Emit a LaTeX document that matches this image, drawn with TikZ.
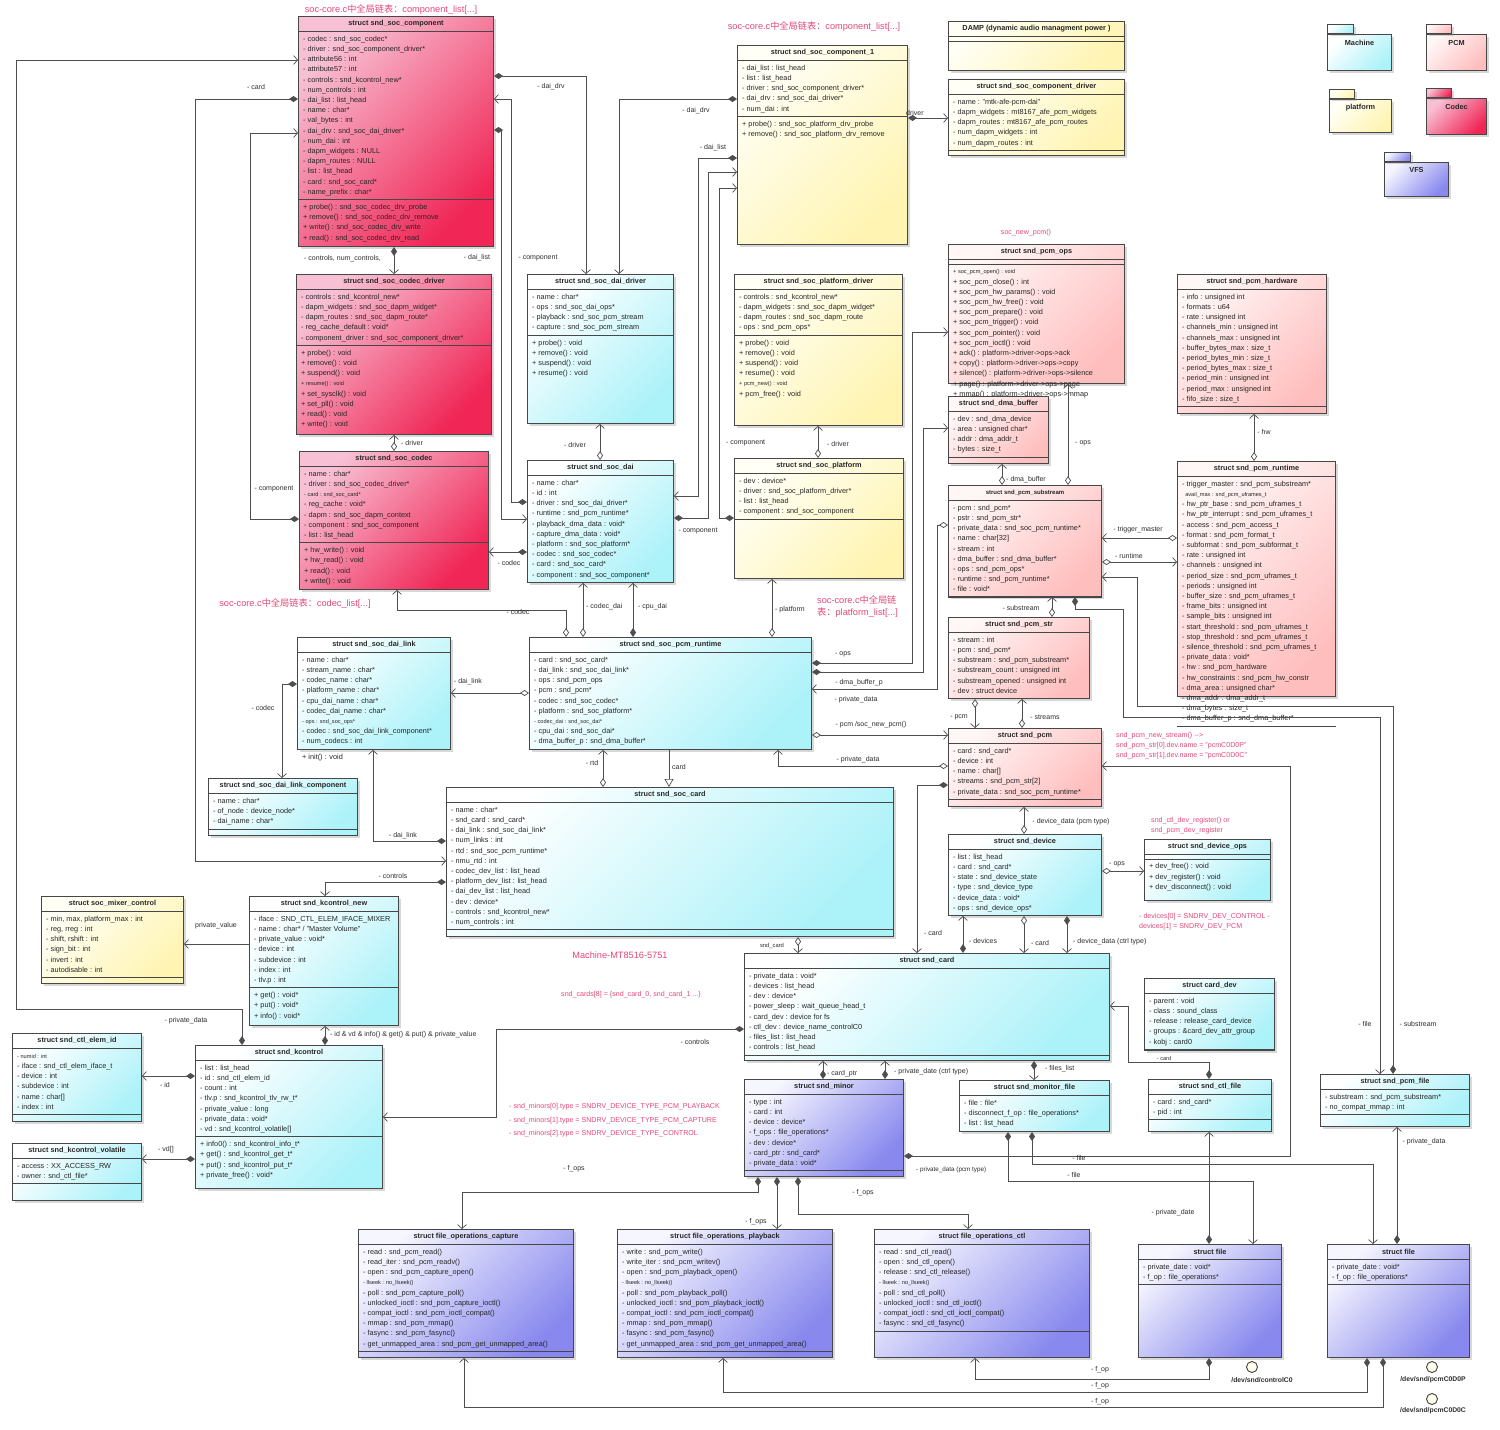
\documentclass[tikz,border=0pt]{standalone}
\usepackage{fontspec}
\setmainfont{Liberation Sans}
\newfontfamily\cjk{Noto Sans CJK SC}
\usetikzlibrary{calc,arrows.meta,shadows}
\definecolor{codecA}{RGB}{248,192,212}
\definecolor{codecB}{RGB}{240,38,86}
\definecolor{machA}{RGB}{255,255,255}
\definecolor{machB}{RGB}{172,242,249}
\definecolor{platA}{RGB}{255,255,246}
\definecolor{platB}{RGB}{255,244,178}
\definecolor{pcmA}{RGB}{255,246,246}
\definecolor{pcmB}{RGB}{255,190,190}
\definecolor{vfsA}{RGB}{246,246,255}
\definecolor{vfsB}{RGB}{136,136,238}
\definecolor{pinklbl}{RGB}{228,72,120}
\definecolor{linegray}{RGB}{78,78,78}
\newcommand{\smalltxt}[1]{{\fontsize{5.6}{6}\selectfont #1}}
\tikzset{
  classbox/.style={draw=black!72, line width=1pt, inner sep=0,
    drop shadow={shadow xshift=2pt, shadow yshift=-2pt, opacity=0.3}},
  fcodec/.style={top color=codecA, bottom color=codecB, shading angle=45},
  fmach/.style={top color=machA, bottom color=machB, shading angle=45},
  fplat/.style={top color=platA, bottom color=platB, shading angle=45},
  fpcm/.style={top color=pcmA, bottom color=pcmB, shading angle=45},
  fvfs/.style={top color=vfsA, bottom color=vfsB, shading angle=45},
  sepline/.style={draw=black!72, line width=0.8pt},
  titletext/.style={font={\fontsize{7.3}{9}\selectfont\bfseries}, text=black!85, inner sep=0},
  membertext/.style={font={\fontsize{7.3}{10.2}\selectfont}, text=black!85, inner sep=0},
  lbl/.style={font={\fontsize{7}{8}\selectfont}, text=black!82, inner sep=0},
  pinkbig/.style={font={\fontsize{9.2}{11}\selectfont}, text=pinklbl, inner sep=0},
  pinksm/.style={font={\fontsize{7.1}{8}\selectfont}, text=pinklbl, inner sep=0},
  conn/.style={draw=linegray, line width=0.7pt},
  assoc/.style={conn, -{Straight Barb[length=4pt,width=9pt]}},
  compo/.style={conn, {Diamond[length=9pt,width=6pt,fill=linegray]}-{Straight Barb[length=4pt,width=9pt]}},
  aggr/.style={conn, {Diamond[open,length=9pt,width=6pt,fill=white]}-{Straight Barb[length=4pt,width=9pt]}},
  gen/.style={conn, -{Triangle[open,length=8pt,width=9pt,fill=white]}},
  pkg/.style={draw=black!72, line width=1pt, inner sep=0,
    drop shadow={shadow xshift=2pt, shadow yshift=-2pt, opacity=0.3}},
  iface/.style={circle, draw=black!75, line width=0.9pt, fill=yellow!8, minimum size=11pt, inner sep=0},
}
% #1 name, #2 x, #3 y (top), #4 width, #5 height, #6 fill, #7 title, #8 attributes, #9 methods
\newcommand{\umlclass}[9]{%
  \node[classbox,#6,minimum width=#4pt,minimum height=#5pt,anchor=north west] (#1) at (#2,#3) {};
  \node[titletext] (#1t) at ($(#1.north)+(0,7.5)$) {#7};
  \draw[sepline] ($(#1.north west)+(0,15)$) -- ($(#1.north east)+(0,15)$);
  \if\relax\detokenize{#8}\relax
    \coordinate (#1s) at ($(#1.north west)+(0,20)$);
  \else
    \node[membertext,anchor=north west] (#1a) at ($(#1.north west)+(5,18)$) {\begin{tabular}{@{}l@{}}#8\end{tabular}};
    \coordinate (#1s) at ($(#1.west |- #1a.south)+(0,2)$);
  \fi
  \draw[sepline] (#1.west |- #1s) -- (#1.east |- #1s);
  \if\relax\detokenize{#9}\relax\else
    \node[membertext,anchor=north west] (#1m) at ($(#1.west |- #1s)+(5,2.5)$) {\begin{tabular}{@{}l@{}}#9\end{tabular}};
  \fi
}
\begin{document}
\catcode`\_=12\relax
\begin{tikzpicture}[x=1pt,y=-1pt]
\fill[white] (0,0) rectangle (1500,1430);
\useasboundingbox (0,0) rectangle (1500,1430);

% ---------------- Codec ----------------
\umlclass{comp}{298}{16}{195}{230}{fcodec}{struct snd_soc_component}{- codec : snd_soc_codec*\\ - driver : snd_soc_component_driver*\\ - attribute56 : int\\ - attribute57 : int\\ - controls : snd_kcontrol_new*\\ - num_controls : int\\ - dai_list : list_head\\ - name : char*\\ - val_bytes : int\\ - dai_drv : snd_soc_dai_driver*\\ - num_dai : int\\ - dapm_widgets : NULL\\ - dapm_routes : NULL\\ - list : list_head\\ - card : snd_soc_card*\\ - name_prefix : char*}{+ probe() : snd_soc_codec_drv_probe\\ + remove() : snd_soc_codec_drv_remove\\ + write() : snd_soc_codec_drv_write\\ + read() : snd_soc_codec_drv_read}

\umlclass{cdrv}{296}{274}{195}{160}{fcodec}{struct snd_soc_codec_driver}{- controls : snd_kcontrol_new*\\ - dapm_widgets : snd_soc_dapm_widget*\\ - dapm_routes : snd_soc_dapm_route*\\ - reg_cache_default : void*\\ - component_driver : snd_soc_component_driver*}{+ probe() : void\\ + remove() : void\\ + suspend() : void\\ \smalltxt{+ resume() : void}\\ + set_sysclk() : void\\ + set_pll() : void\\ + read() : void\\ + write() : void}

\umlclass{codec}{299}{451}{189}{138}{fcodec}{struct snd_soc_codec}{- name : char*\\ - driver : snd_soc_codec_driver*\\ \smalltxt{- card : snd_soc_card*}\\ - reg_cache : void*\\ - dapm : snd_soc_dapm_context\\ - component : snd_soc_component\\ - list : list_head}{+ hw_write() : void\\ + hw_read() : void\\ + read() : void\\ + write() : void}

% ---------------- Machine (soc) ----------------
\umlclass{daidrv}{527}{274}{146}{149}{fmach}{struct snd_soc_dai_driver}{- name : char*\\ - ops : snd_soc_dai_ops*\\ - playback : snd_soc_pcm_stream\\ - capture : snd_soc_pcm_stream}{+ probe() : void\\ + remove() : void\\ + suspend() : void\\ + resume() : void}

\umlclass{dai}{527}{460}{146}{122}{fmach}{struct snd_soc_dai}{- name : char*\\ - id : int\\ - driver : snd_soc_dai_driver*\\ - runtime : snd_pcm_runtime*\\ - playback_dma_data : void*\\ - capture_dma_data : void*\\ - platform : snd_soc_platform*\\ - codec : snd_soc_codec*\\ - card : snd_soc_card*\\ - component : snd_soc_component*}{}

% ---------------- platform ----------------
\umlclass{comp1}{737}{45}{170}{199}{fplat}{struct snd_soc_component_1}{- dai_list : list_head\\ - list : list_head\\ - driver : snd_soc_component_driver*\\ - dai_drv : snd_soc_dai_driver*\\ - num_dai : int}{+ probe() : snd_soc_platform_drv_probe\\ + remove() : snd_soc_platform_drv_remove}

\umlclass{damp}{948}{21}{176}{49}{fplat}{DAMP (dynamic audio managment power )}{}{}

\umlclass{compdrv}{948}{79}{176}{76}{fplat}{struct snd_soc_component_driver}{- name : "mtk-afe-pcm-dai"\\ - dapm_widgets : mt8167_afe_pcm_widgets\\ - dapm_routes : mt8167_afe_pcm_routes\\ - num_dapm_widgets : int\\ - num_dapm_routes : int}{}

\umlclass{platdrv}{734}{274}{168}{151}{fplat}{struct snd_soc_platform_driver}{- controls : snd_kcontrol_new*\\ - dapm_widgets : snd_soc_dapm_widget*\\ - dapm_routes : snd_soc_dapm_route\\ - ops : snd_pcm_ops*}{+ probe() : void\\ + remove() : void\\ + suspend() : void\\ + resume() : void\\ \smalltxt{+ pcm_new() : void}\\ + pcm_free() : void}

\umlclass{plat}{734}{458}{169}{120}{fplat}{struct snd_soc_platform}{- dev : device*\\ - driver : snd_soc_platform_driver*\\ - list : list_head\\ - component : snd_soc_component}{}

% ---------------- PCM ----------------
\umlclass{pcmops}{948}{244}{176}{139}{fpcm}{struct snd_pcm_ops}{}{\smalltxt{+ soc_pcm_open() : void}\\ + soc_pcm_close() : int\\ + soc_pcm_hw_params() : void\\ + soc_pcm_hw_free() : void\\ + soc_pcm_prepare() : void\\ + soc_pcm_trigger() : void\\ + soc_pcm_pointer() : void\\ + soc_pcm_ioctl() : void\\ + ack() : platform->driver->ops->ack\\ + copy() : platform->driver->ops->copy\\ + silence() : platform->driver->ops->silence\\ + page() : platform->driver->ops->page\\ + mmap() : platform->driver->ops->mmap}

\umlclass{dmabuf}{948}{396}{100}{67}{fpcm}{struct snd_dma_buffer}{- dev : snd_dma_device\\ - area : unsigned char*\\ - addr : dma_addr_t\\ - bytes : size_t}{}

\umlclass{subst}{948}{485}{153}{111}{fpcm}{\fontsize{6}{7}\selectfont struct snd_pcm_substream}{- pcm : snd_pcm*\\ - pstr : snd_pcm_str*\\ - private_data : snd_soc_pcm_runtime*\\ - name : char[32]\\ - stream : int\\ - dma_buffer : snd_dma_buffer*\\ - ops : snd_pcm_ops*\\ - runtime : snd_pcm_runtime*\\ - file : void*}{}

\umlclass{pcmstr}{948}{617}{141}{81}{fpcm}{struct snd_pcm_str}{- stream : int\\ - pcm : snd_pcm*\\ - substream : snd_pcm_substream*\\ - substream_count : unsigned int\\ - substream_opened : unsigned int\\ - dev : struct device}{}

\umlclass{pcm}{948}{728}{153}{78}{fpcm}{struct snd_pcm}{- card : snd_card*\\ - device : int\\ - name : char[]\\ - streams : snd_pcm_str[2]\\ - private_data : snd_soc_pcm_runtime*}{}

\umlclass{pcmhw}{1177}{274}{149}{139}{fpcm}{struct snd_pcm_hardware}{- info : unsigned int\\ - formats : u64\\ - rate : unsigned int\\ - channels_min : unsigned int\\ - channels_max : unsigned int\\ - buffer_bytes_max : size_t\\ - period_bytes_min : size_t\\ - period_bytes_max : size_t\\ - period_min : unsigned int\\ - period_max : unsigned int\\ - fifo_size : size_t}{}

\umlclass{pcmrt}{1177}{461}{158}{235}{fpcm}{struct snd_pcm_runtime}{- trigger_master : snd_pcm_substream*\\ \smalltxt{\ \ avail_max : snd_pcm_uframes_t}\\ - hw_ptr_base : snd_pcm_uframes_t\\ - hw_ptr_interrupt : snd_pcm_uframes_t\\ - access : snd_pcm_access_t\\ - format : snd_pcm_format_t\\ - subformat : snd_pcm_subformat_t\\ - rate : unsigned int\\ - channels : unsigned int\\ - period_size : snd_pcm_uframes_t\\ - periods : unsigned int\\ - buffer_size : snd_pcm_uframes_t\\ - frame_bits : unsigned int\\ - sample_bits : unsigned int\\ - start_threshold : snd_pcm_uframes_t\\ - stop_threshold : snd_pcm_uframes_t\\ - silence_threshold : snd_pcm_uframes_t\\ - private_data : void*\\ - hw : snd_pcm_hardware\\ - hw_constraints : snd_pcm_hw_constr\\ - dma_area : unsigned char*\\ - dma_addr : dma_addr_t\\ - dma_bytes : size_t\\ - dma_buffer_p : snd_dma_buffer*}{}

% ---------------- Machine ----------------
\umlclass{dailink}{297}{637}{153}{112}{fmach}{struct snd_soc_dai_link}{- name : char*\\ - stream_name : char*\\ - codec_name : char*\\ - platform_name : char*\\ - cpu_dai_name : char*\\ - codec_dai_name : char*\\ \smalltxt{- ops : snd_soc_ops*}\\ - codec : snd_soc_dai_link_component*\\ - num_codecs : int}{+ init() : void}

\umlclass{dlcomp}{208}{778}{149}{57}{fmach}{struct snd_soc_dai_link_component}{- name : char*\\ - of_node : device_node*\\ - dai_name : char*}{}

\umlclass{rtd}{529}{637}{282}{112}{fmach}{struct snd_soc_pcm_runtime}{- card : snd_soc_card*\\ - dai_link : snd_soc_dai_link*\\ - ops : snd_pcm_ops\\ - pcm : snd_pcm*\\ - codec : snd_soc_codec*\\ - platform : snd_soc_platform*\\ \smalltxt{- codec_dai : snd_soc_dai*}\\ - cpu_dai : snd_soc_dai*\\ - dma_buffer_p : snd_dma_buffer*}{}

\umlclass{soccard}{446}{787}{447}{149}{fmach}{struct snd_soc_card}{- name : char*\\ - snd_card : snd_card*\\ - dai_link : snd_soc_dai_link*\\ - num_links : int\\ - rtd : snd_soc_pcm_runtime*\\ - nmu_rtd : int\\ - codec_dev_list : list_head\\ - platform_dev_list : list_head\\ - dai_dev_list : list_head\\ - dev : device*\\ - controls : snd_kcontrol_new*\\ - num_controls : int}{}

\umlclass{mixer}{41}{896}{142}{87}{fplat}{struct soc_mixer_control}{- min, max, platform_max : int\\ - reg, rreg : int\\ - shift, rshift : int\\ - sign_bit : int\\ - invert : int\\ - autodisable : int}{}

\umlclass{kcnew}{249}{896}{149}{129}{fmach}{struct snd_kcontrol_new}{- iface : SND_CTL_ELEM_IFACE_MIXER\\ - name : char* / "Master Volume"\\ - private_value : void*\\ - device : int\\ - subdevice : int\\ - index : int\\ - tlv.p : int}{+ get() : void*\\ + put() : void*\\ + info() : void*}

\umlclass{elemid}{12}{1033}{129}{88}{fmach}{struct snd_ctl_elem_id}{\smalltxt{- numid : int}\\ - iface : snd_ctl_elem_iface_t\\ - device : int\\ - subdevice : int\\ - name : char[]\\ - index : int}{}

\umlclass{kvol}{12}{1143}{129}{57}{fmach}{struct snd_kcontrol_volatile}{- access : XX_ACCESS_RW\\ - owner : snd_ctl_file*}{}

\umlclass{kctl}{195}{1045}{187}{143}{fmach}{struct snd_kcontrol}{- list : list_head\\ - id : snd_ctl_elem_id\\ - count : int\\ - tlv.p : snd_kcontrol_tlv_rw_t*\\ - private_value : long\\ - private_data : void*\\ - vd : snd_kcontrol_volatile[]}{+ info0() : snd_kcontrol_info_t*\\ + get() : snd_kcontrol_get_t*\\ + put() : snd_kcontrol_put_t*\\ + private_free() : void*}

\umlclass{sdev}{948}{834}{153}{81}{fmach}{struct snd_device}{- list : list_head\\ - card : snd_card*\\ - state : snd_device_state\\ - type : snd_device_type\\ - device_data : void*\\ - ops : snd_device_ops*}{}

\umlclass{sdevops}{1144}{839}{126}{61}{fmach}{struct snd_device_ops}{}{+ dev_free() : void\\ + dev_register() : void\\ + dev_disconnect() : void}

\umlclass{card}{744}{953}{365}{107}{fmach}{struct snd_card}{- private_data : void*\\ - devices : list_head\\ - dev : device*\\ - power_sleep : wait_queue_head_t\\ - card_dev : device for fs\\ - ctl_dev : device_name_controlC0\\ - files_list : list_head\\ - controls : list_head}{}

\umlclass{carddev}{1144}{978}{130}{72}{fmach}{struct card_dev}{- parent : void\\ - class : sound_class\\ - release : release_card_device\\ - groups : \&card_dev_attr_group\\ - kobj : card0}{}

\umlclass{monfile}{959}{1080}{150}{51}{fmach}{struct snd_monitor_file}{- file : file*\\ - disconnect_f_op : file_operations*\\ - list : list_head}{}

\umlclass{ctlfile}{1148}{1079}{123}{52}{fmach}{struct snd_ctl_file}{- card : snd_card*\\ - pid : int}{}

\umlclass{pcmfile}{1320}{1074}{149}{52}{fmach}{struct snd_pcm_file}{- substream : snd_pcm_substream*\\ - no_compat_mmap : int}{}

% ---------------- VFS ----------------
\umlclass{minor}{744}{1079}{159}{97}{fvfs}{struct snd_minor}{- type : int\\ - card : int\\ - device : device*\\ - f_ops : file_operations*\\ - dev : device*\\ - card_ptr : snd_card*\\ - private_data : void*}{}

\umlclass{fcap}{358}{1229}{215}{128}{fvfs}{struct file_operations_capture}{- read : snd_pcm_read()\\ - read_iter : snd_pcm_readv()\\ - open : snd_pcm_capture_open()\\ \smalltxt{- llseek : no_llseek()}\\ - poll : snd_pcm_capture_poll()\\ - unlocked_ioctl : snd_pcm_capture_ioctl()\\ - compat_ioctl : snd_pcm_ioctl_compat()\\ - mmap : snd_pcm_mmap()\\ - fasync : snd_pcm_fasync()\\ - get_unmapped_area : snd_pcm_get_unmapped_area()}{}

\umlclass{fplay}{617}{1229}{215}{128}{fvfs}{struct file_operations_playback}{- write : snd_pcm_write()\\ - write_iter : snd_pcm_writev()\\ - open : snd_pcm_playback_open()\\ \smalltxt{- llseek : no_llseek()}\\ - poll : snd_pcm_playback_poll()\\ - unlocked_ioctl : snd_pcm_playback_ioctl()\\ - compat_ioctl : snd_pcm_ioctl_compat()\\ - mmap : snd_pcm_mmap()\\ - fasync : snd_pcm_fasync()\\ - get_unmapped_area : snd_pcm_get_unmapped_area()}{}

\umlclass{fctl}{874}{1229}{215}{128}{fvfs}{struct file_operations_ctl}{- read : snd_ctl_read()\\ - open : snd_ctl_open()\\ - release : snd_ctl_release()\\ \smalltxt{- llseek : no_llseek()}\\ - poll : snd_ctl_poll()\\ - unlocked_ioctl : snd_ctl_ioctl()\\ - compat_ioctl : snd_ctl_ioctl_compat()\\ - fasync : snd_ctl_fasync()}{}

\umlclass{fileA}{1138}{1244}{143}{113}{fvfs}{struct file}{- private_date : void*\\ - f_op : file_operations*}{}

\umlclass{fileB}{1327}{1244}{142}{113}{fvfs}{struct file}{- private_date : void*\\ - f_op : file_operations*}{}

% ---------------- packages ----------------
\node[pkg,fmach,minimum width=64pt,minimum height=36pt,anchor=north west] (pkmach) at (1327,34) {};
\node[pkg,fmach,minimum width=26pt,minimum height=9pt,anchor=south west] (pkmacht) at (pkmach.north west) {};
\node[titletext] (pkmachl) at ($(pkmach.north)+(0,9)$) {Machine};
\node[pkg,fpcm,minimum width=60pt,minimum height=36pt,anchor=north west] (pkpcm) at (1426,34) {};
\node[pkg,fpcm,minimum width=25pt,minimum height=9pt,anchor=south west] (pkpcmt) at (pkpcm.north west) {};
\node[titletext] (pkpcml) at ($(pkpcm.north)+(0,9)$) {PCM};
\node[pkg,fplat,minimum width=62pt,minimum height=33pt,anchor=north west] (pkplat) at (1329,99) {};
\node[pkg,fplat,minimum width=25pt,minimum height=9pt,anchor=south west] (pkplatt) at (pkplat.north west) {};
\node[titletext] (pkplatl) at ($(pkplat.north)+(0,9)$) {platform};
\node[pkg,fcodec,minimum width=60pt,minimum height=36pt,anchor=north west] (pkcodec) at (1426,98) {};
\node[pkg,fcodec,minimum width=25pt,minimum height=9pt,anchor=south west] (pkcodect) at (pkcodec.north west) {};
\node[titletext] (pkcodecl) at ($(pkcodec.north)+(0,9)$) {Codec};
\node[pkg,fvfs,minimum width=64pt,minimum height=34pt,anchor=north west] (pkvfs) at (1384,162) {};
\node[pkg,fvfs,minimum width=26pt,minimum height=9pt,anchor=south west] (pkvfst) at (pkvfs.north west) {};
\node[titletext] (pkvfsl) at ($(pkvfs.north)+(0,8)$) {VFS};

% ---------------- interfaces ----------------
\node[iface] (ifctl) at (1252,1367) {};
\node[lbl,font={\fontsize{6.8}{8}\selectfont\bfseries}] (ifctll) at (1262,1380) {/dev/snd/controlC0};
\node[iface] (ifpcmp) at (1432,1367) {};
\node[lbl,font={\fontsize{6.8}{8}\selectfont\bfseries}] (ifpcmpl) at (1433,1380) {/dev/snd/pcmC0D0P};
\node[iface] (ifpcmc) at (1432,1399) {};
\node[lbl,font={\fontsize{6.8}{8}\selectfont\bfseries}] (ifpcmcl) at (1433,1411) {/dev/snd/pcmC0D0C};

% ---------------- connectors ----------------
\draw[compo] (kctl.north -| 242,0) -- (242,1009) -- (16,1009) -- (16,60) -- (comp.west |- 0,60);
\draw[compo] (comp.west |- 0,99) -- (195,99) -- (195,861) -- (soccard.west |- 0,861);
\draw[compo] (codec.west |- 0,519) -- (250,519) -- (250,133) -- (comp.west |- 0,133);
\draw[compo] (comp.south -| 394,0) -- (cdrv.north -| 394,0);
\draw[compo] (comp.east |- 0,76) -- (586,76) -- (daidrv.north -| 586,0);
\draw[compo] (dai.west |- 0,502) -- (511,502) -- (511,99) -- (comp.east |- 0,99);
\draw[compo] (comp.east |- 0,130) -- (501,130) -- (501,519) -- (dai.west |- 0,519);
\draw[compo] (dai.west |- 0,552) -- (codec.east |- 0,552);
\draw[aggr] (dai.north -| 600,0) -- (daidrv.south -| 600,0);
\draw[aggr] (codec.north -| 394,0) -- (cdrv.south -| 394,0);
\draw[compo] (comp1.west |- 0,99) -- (619,99) -- (daidrv.north -| 619,0);
\draw[compo] (comp1.west |- 0,158) -- (698,158) -- (698,496) -- (dai.east |- 0,496);
\draw[compo] (dai.east |- 0,518) -- (708,518) -- (708,172) -- (comp1.west |- 0,172);
\draw[compo] (plat.west |- 0,518) -- (719,518) -- (719,188) -- (comp1.west |- 0,188);
\draw[compo] (comp1.east |- 0,118) -- (compdrv.west |- 0,118);
\draw[aggr] (plat.north -| 818,0) -- (platdrv.south -| 818,0);
\draw[compo] (rtd.east |- 0,663) -- (912,663) -- (912,332) -- (pcmops.west |- 0,332);
\draw[compo] (rtd.east |- 0,672) -- (923,672) -- (923,428) -- (dmabuf.west |- 0,428);
\draw[aggr] (subst.west |- 0,525) -- (937,525) -- (937,689) -- (rtd.east |- 0,689);
\draw[aggr] (rtd.east |- 0,735) -- (pcm.west |- 0,735);
\draw[aggr] (pcm.west |- 0,766) -- (778,766) -- (rtd.south -| 778,0);
\draw[compo] (pcm.west |- 0,785) -- (917,785) -- (card.north -| 917,0);
\draw[aggr] (pcmstr.south -| 975,0) -- (pcm.north -| 975,0);
\draw[aggr] (pcm.north -| 1022,0) -- (pcmstr.south -| 1022,0);
\draw[aggr] (pcmstr.north -| 1052,0) -- (subst.south -| 1052,0);
\draw[compo] (subst.south -| 1075,0) -- (1075,609) -- (1123,609) -- (1123,717) -- (1380,717) -- (pcmfile.north -| 1380,0);
\draw[compo] (pcmfile.north -| 1393,0) -- (1393,706) -- (1137,706) -- (1137,577) -- (subst.east |- 0,577);
\draw[aggr] (pcmrt.west |- 0,538) -- (subst.east |- 0,538);
\draw[aggr] (subst.east |- 0,562) -- (pcmrt.west |- 0,562);
\draw[aggr] (subst.north -| 1002,0) -- (dmabuf.south -| 1002,0);
\draw[aggr] (subst.north -| 1068,0) -- (pcmops.south -| 1068,0);
\draw[aggr] (pcmrt.north -| 1254,0) -- (pcmhw.south -| 1254,0);
\draw[compo] (minor.east |- 0,1156) -- (1290,1156) -- (1290,766) -- (pcm.east |- 0,766);
\draw[compo] (monfile.south -| 1032,0) -- (1032,1164) -- (1373,1164) -- (fileB.north -| 1373,0);
\draw[compo] (monfile.south -| 1008,0) -- (1008,1181) -- (1253,1181) -- (fileA.north -| 1253,0);
\draw[compo] (fileA.north -| 1209,0) -- (ctlfile.south -| 1209,0);
\draw[compo] (fileB.north -| 1397,0) -- (pcmfile.south -| 1397,0);
\draw[compo] (ctlfile.north -| 1209,0) -- (1209,1062) -- (1128,1062) -- (1128,1006) -- (card.east |- 0,1006);
\draw[compo] (fileA.south -| 1209,0) -- (1209,1379) -- (975,1379) -- (fctl.south -| 975,0);
\draw[compo] (fileB.south -| 1367,0) -- (1367,1392) -- (723,1392) -- (fplay.south -| 723,0);
\draw[compo] (fileB.south -| 1383,0) -- (1383,1407) -- (464,1407) -- (fcap.south -| 464,0);
\draw[compo] (minor.south -| 798,0) -- (798,1214) -- (968,1214) -- (fctl.north -| 968,0);
\draw[compo] (minor.south -| 777,0) -- (fplay.north -| 777,0);
\draw[compo] (minor.south -| 758,0) -- (758,1192) -- (462,1192) -- (fcap.north -| 462,0);
\draw[compo] (minor.north -| 823,0) -- (card.south -| 823,0);
\draw[compo] (minor.north -| 885,0) -- (card.south -| 885,0);
\draw[compo] (card.south -| 1034,0) -- (monfile.north -| 1034,0);
\draw[compo] (card.north -| 963,0) -- (sdev.south -| 963,0);
\draw[aggr] (sdev.south -| 1024,0) -- (card.north -| 1024,0);
\draw[compo] (sdev.south -| 1067,0) -- (card.north -| 1067,0);
\draw[aggr] (sdev.north -| 1024,0) -- (pcm.south -| 1024,0);
\draw[aggr] (sdev.east |- 0,871) -- (sdevops.west |- 0,871);
\draw[compo] (card.west |- 0,1029) -- (496,1029) -- (496,1117) -- (kctl.east |- 0,1117);
\draw[aggr] (soccard.south -| 798,0) -- (card.north -| 798,0);
\draw[aggr] (soccard.north -| 603,0) -- (rtd.south -| 603,0);
\draw[gen] (rtd.south -| 669,0) -- (soccard.north -| 669,0);
\draw[aggr] (rtd.north -| 566,0) -- (566,610) -- (397,610) -- (codec.south -| 397,0);
\draw[aggr] (rtd.north -| 583,0) -- (dai.south -| 583,0);
\draw[compo] (rtd.north -| 633,0) -- (dai.south -| 633,0);
\draw[aggr] (rtd.west |- 0,693) -- (dailink.east |- 0,693);
\draw[aggr] (rtd.north -| 772,0) -- (plat.south -| 772,0);
\draw[compo] (soccard.west |- 0,841) -- (373,841) -- (dailink.south -| 373,0);
\draw[compo] (soccard.west |- 0,882) -- (325,882) -- (kcnew.north -| 325,0);
\draw[assoc] (kcnew.west |- 0,944) -- (mixer.east |- 0,944);
\draw[compo] (dailink.west |- 0,684) -- (282,684) -- (dlcomp.north -| 282,0);
\draw[compo] (kctl.north -| 325,0) -- (kcnew.south -| 325,0);
\draw[compo] (kctl.west |- 0,1076) -- (elemid.east |- 0,1076);
\draw[compo] (kctl.west |- 0,1159) -- (kvol.east |- 0,1159);

% ---------------- connector labels ----------------
\node[lbl] (L1) at (186,1021) {- private_data};
\node[lbl] (L2) at (256,87) {- card};
\node[lbl] (L3) at (274,489) {- component};
\node[lbl,anchor=west] (L4) at (304,259) {- controls, num_controls,};
\node[lbl] (L5) at (551,87) {- dai_drv};
\node[lbl] (L6) at (538,258) {- component};
\node[lbl] (L7) at (477,258) {- dai_list};
\node[lbl] (L8) at (509,563) {- codec};
\node[lbl] (L9) at (575,445) {- driver};
\node[lbl] (L10) at (412,443) {- driver};
\node[lbl] (L11) at (696,111) {- dai_drv};
\node[lbl] (L12) at (713,148) {- dai_list};
\node[lbl] (L13) at (698,531) {- component};
\node[lbl,anchor=west] (L14) at (726,443) {- component};
\node[lbl,anchor=west] (L15) at (906,113) {driver};
\node[lbl] (L16) at (838,444) {- driver};
\node[lbl] (L17) at (843,654) {- ops};
\node[lbl] (L18) at (859,683) {- dma_buffer_p};
\node[lbl] (L19) at (856,700) {- private_data};
\node[lbl] (L20) at (871,725) {- pcm /soc_new_pcm()};
\node[lbl] (L21) at (858,760) {- private_data};
\node[lbl] (L22) at (933,933) {- card};
\node[lbl] (L23) at (959,717) {- pcm};
\node[lbl] (L24) at (1045,717) {- streams};
\node[lbl] (L25) at (1021,608) {- substream};
\node[lbl] (L26) at (1365,1024) {- file};
\node[lbl] (L27) at (1418,1024) {- substream};
\node[lbl] (L28) at (1138,530) {- trigger_master};
\node[lbl] (L29) at (1129,556) {- runtime};
\node[lbl] (L30) at (1026,480) {- dma_buffer};
\node[lbl] (L31) at (1083,443) {- ops};
\node[lbl] (L32) at (1264,432) {- hw};
\node[lbl,anchor=west,font={\fontsize{6.3}{7}\selectfont}] (L33) at (916,1170) {- private_data (pcm type)};
\node[lbl] (L34) at (1079,1158) {- file};
\node[lbl] (L35) at (1074,1175) {- file};
\node[lbl] (L36) at (1173,1213) {- private_date};
\node[lbl] (L37) at (1424,1142) {- private_data};
\node[lbl,font={\fontsize{5.6}{6}\selectfont}] (L38) at (1164,1058) {- card};
\node[lbl] (L39) at (1100,1370) {- f_op};
\node[lbl] (L40) at (1100,1386) {- f_op};
\node[lbl] (L41) at (1100,1402) {- f_op};
\node[lbl] (L42) at (863,1193) {- f_ops};
\node[lbl] (L43) at (756,1222) {- f_ops};
\node[lbl] (L44) at (574,1169) {- f_ops};
\node[lbl,anchor=west] (L45) at (827,1074) {- card_ptr};
\node[lbl,anchor=west] (L46) at (894,1072) {- private_date (ctrl type)};
\node[lbl,anchor=west] (L47) at (1045,1069) {- files_list};
\node[lbl] (L48) at (983,941) {- devices};
\node[lbl] (L49) at (1040,943) {- card};
\node[lbl,anchor=west] (L50) at (1073,942) {- device_data (ctrl type)};
\node[lbl] (L51) at (1071,822) {- device_data (pcm type)};
\node[lbl] (L52) at (1117,864) {- ops};
\node[lbl] (L53) at (695,1042) {- controls};
\node[lbl,font={\fontsize{5.8}{6}\selectfont}] (L54) at (772,946) {snd_card};
\node[lbl] (L55) at (592,763) {- rtd};
\node[lbl] (L56) at (679,767) {card};
\node[lbl] (L57) at (518,612) {- codec};
\node[lbl,anchor=west] (L58) at (586,607) {- codec_dai};
\node[lbl,anchor=west] (L59) at (638,607) {- cpu_dai};
\node[lbl] (L60) at (468,682) {- dai_link};
\node[lbl] (L61) at (790,610) {- platform};
\node[lbl] (L62) at (403,836) {- dai_link};
\node[lbl] (L63) at (393,876) {- controls};
\node[lbl] (L64) at (216,926) {private_value};
\node[lbl] (L65) at (263,708) {- codec};
\node[lbl,anchor=west] (L66) at (330,1035) {- id \& vd \& info() \& get() \& put() \& private_value};
\node[lbl] (L67) at (165,1085) {- id};
\node[lbl] (L68) at (166,1150) {- vd[]};

% ---------------- pink notes ----------------
\node[pinkbig] (N1) at (391,10) {soc-core.c{\cjk 中全局链表：}component_list[...]};
\node[pinkbig] (N2) at (814,27) {soc-core.c{\cjk 中全局链表：}component_list[...]};
\node[pinkbig] (N3) at (295,604) {soc-core.c{\cjk 中全局链表：}codec_list[...]};
\node[pinkbig,anchor=west] (N4) at (817,600) {soc-core.c{\cjk 中全局链}};
\node[pinkbig,anchor=west] (N5) at (817,613) {{\cjk 表：}platform_list[...]};
\node[pinksm] (N6) at (1026,233) {soc_new_pcm()};
\node[pinksm,anchor=west] (N7) at (1116,736) {snd_pcm_new_stream() -{}->};
\node[pinksm,anchor=west] (N8) at (1116,746) {snd_pcm_str[0].dev.name = "pcmC0D0P"};
\node[pinksm,anchor=west] (N9) at (1116,756) {snd_pcm_str[1].dev.name = "pcmC0D0C"};
\node[pinksm,anchor=west] (N10) at (1151,821) {snd_ctl_dev_register() or};
\node[pinksm,anchor=west] (N11) at (1151,831) {snd_pcm_dev_register};
\node[pinksm,anchor=west] (N12) at (1139,917) {- devices[0] = SNDRV_DEV_CONTROL -};
\node[pinksm,anchor=west] (N13) at (1139,927) {devices[1] = SNDRV_DEV_PCM};
\node[pinkbig] (N14) at (620,955) {Machine-MT8516-5751};
\node[pinksm] (N15) at (631,995) {snd_cards[8] = \{snd_card_0, snd_card_1 ...\}};
\node[pinksm,anchor=west] (N16) at (509,1107) {- snd_minors[0].type = SNDRV_DEVICE_TYPE_PCM_PLAYBACK};
\node[pinksm,anchor=west] (N17) at (509,1121) {- snd_minors[1].type = SNDRV_DEVICE_TYPE_PCM_CAPTURE};
\node[pinksm,anchor=west] (N18) at (509,1134) {- snd_minors[2].type = SNDRV_DEVICE_TYPE_CONTROL};
\end{tikzpicture}
\end{document}
